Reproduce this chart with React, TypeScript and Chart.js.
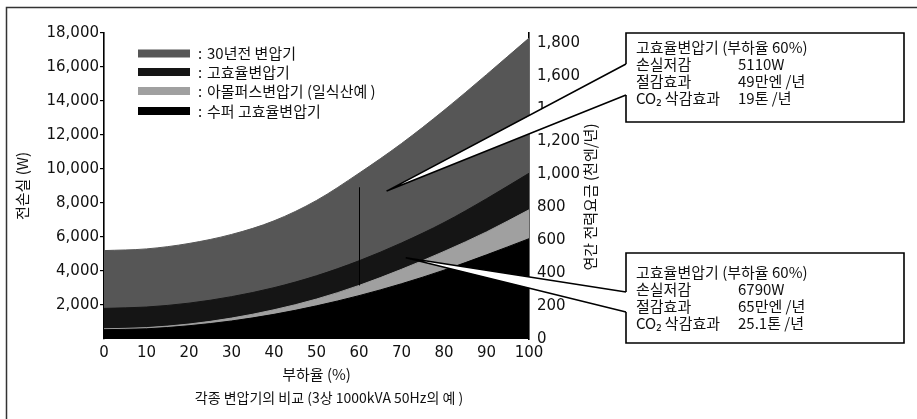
import React, { useEffect, useRef } from 'react';
import { Chart, registerables } from 'chart.js';

Chart.register(...registerables);

// ---- data ----
const LOAD_PCT = [0, 10, 20, 30, 40, 50, 60, 70, 80, 90, 100];
const LOSS_30Y_OLD = [5200, 5300, 5620, 6150, 6950, 8150, 9750, 11500, 13450, 15550, 17700];
const LOSS_HIGH_EFF = [1800, 1880, 2110, 2490, 3020, 3720, 4600, 5650, 6850, 8250, 9750];
const LOSS_AMORPHOUS = [600, 670, 880, 1230, 1720, 2350, 3150, 4100, 5150, 6300, 7600];
const LOSS_SUPER = [550, 600, 780, 1060, 1450, 1950, 2550, 3250, 4050, 4950, 5900];

const SERIES_LABELS = ['30년전 변압기', '고효율변압기', '아몰퍼스변압기 (일식산예 )', '수퍼 고효율변압기'];
const SERIES_COLORS = ['#565656', '#151515', '#a0a0a0', '#000000'];

const LEFT_TICKS = [2000, 4000, 6000, 8000, 10000, 12000, 14000, 16000, 18000];
const RIGHT_TICKS = [0, 200, 400, 600, 800, 1000, 1200, 1400, 1600, 1800];
const X_TICKS = [0, 10, 20, 30, 40, 50, 60, 70, 80, 90, 100];

const LEFT_TITLE = '전손실 (W)';
const RIGHT_TITLE = '연간 전력요금 (천엔/년)';
const X_TITLE = '부하율 (%)';
const CAPTION = '각종 변압기의 비교 (3상 1000kVA 50Hz의 예 )';

const CALLOUT_HIGH_EFF = [
  ['고효율변압기 (부하율 60%)', ''],
  ['손실저감', '5110W'],
  ['절감효과', '49만엔 /년'],
  ['CO₂ 삭감효과', '19톤 /년'],
];
const CALLOUT_AMORPH = [
  ['고효율변압기 (부하율 60%)', ''],
  ['손실저감', '6790W'],
  ['절감효과', '65만엔 /년'],
  ['CO₂ 삭감효과', '25.1톤 /년'],
];
// tips of the callout pointers (load %, loss W)
const CALLOUT_TIP_1 = [66.5, 8700];
const CALLOUT_TIP_2 = [71, 4780];
const MARK_LOAD = 60;

const KR = '"Noto Sans CJK KR", "Noto Sans", sans-serif';
const NUM = '"DejaVu Sans", sans-serif';
const INK = '#111111';

const overlayPlugin = {
  id: 'overlay',
  beforeDraw(chart: any) {
    const ctx = chart.ctx;
    ctx.save();
    ctx.strokeStyle = '#333';
    ctx.lineWidth = 1.5;
    ctx.beginPath();
    ctx.moveTo(6.5, 419);
    ctx.lineTo(6.5, 7.5);
    ctx.lineTo(917, 7.5);
    ctx.stroke();
    ctx.restore();
  },
  afterDraw(chart: any) {
    const ctx = chart.ctx;
    const xs = chart.scales.x;
    const ys = chart.scales.y;
    ctx.save();

    // vertical marker at 60 %
    const mi = LOAD_PCT.indexOf(MARK_LOAD);
    const mx = Math.round(xs.getPixelForValue(MARK_LOAD)) + 0.5;
    ctx.strokeStyle = '#000';
    ctx.lineWidth = 1;
    ctx.beginPath();
    ctx.moveTo(mx, ys.getPixelForValue(LOSS_30Y_OLD[mi]) + 14);
    ctx.lineTo(mx, ys.getPixelForValue(LOSS_AMORPHOUS[mi]));
    ctx.stroke();

    // legend
    const lx = 138;
    const rowY = [53.5, 72, 91, 111];
    ctx.font = '15px ' + KR;
    ctx.textBaseline = 'middle';
    ctx.textAlign = 'left';
    chart.data.datasets.forEach((ds: any, i: number) => {
      ctx.fillStyle = ds.backgroundColor;
      ctx.fillRect(lx, rowY[i] - 4, 52, 8);
      ctx.fillStyle = INK;
      ctx.fillText(':', 198, rowY[i]);
      ctx.fillText(ds.label, 207, rowY[i]);
    });

    // callouts
    const drawCallout = (tip: number[], bx: number, by: number, bw: number, bh: number, a1: number, a2: number, lines: string[][], firstOff: number) => {
      const tx = xs.getPixelForValue(tip[0]);
      const ty = ys.getPixelForValue(tip[1]);
      ctx.fillStyle = '#fff';
      ctx.beginPath();
      ctx.moveTo(tx, ty);
      ctx.lineTo(bx + 1, a1);
      ctx.lineTo(bx + 1, a2);
      ctx.closePath();
      ctx.fill();
      ctx.fillRect(bx, by, bw, bh);
      ctx.strokeStyle = '#000';
      ctx.lineWidth = 1.6;
      ctx.beginPath();
      ctx.moveTo(bx, a1);
      ctx.lineTo(tx, ty);
      ctx.lineTo(bx, a2);
      ctx.stroke();
      ctx.beginPath();
      ctx.moveTo(bx, a1);
      ctx.lineTo(bx, by);
      ctx.lineTo(bx + bw, by);
      ctx.lineTo(bx + bw, by + bh);
      ctx.lineTo(bx, by + bh);
      ctx.lineTo(bx, a2);
      ctx.stroke();
      ctx.fillStyle = INK;
      ctx.font = '15px ' + KR;
      ctx.textBaseline = 'middle';
      lines.forEach((ln, i) => {
        const y = by + firstOff + i * 17;
        ctx.fillText(ln[0], bx + 10, y);
        if (ln[1]) ctx.fillText(ln[1], bx + 112, y);
      });
    };
    drawCallout(CALLOUT_TIP_1, 626, 33, 278, 89, 64, 95, CALLOUT_HIGH_EFF, 14);
    drawCallout(CALLOUT_TIP_2, 626, 253, 278, 90, 292, 312, CALLOUT_AMORPH, 19);

    // right axis title (reads bottom to top)
    ctx.save();
    ctx.translate(590, 197);
    ctx.rotate(-Math.PI / 2);
    ctx.textAlign = 'center';
    ctx.textBaseline = 'middle';
    ctx.font = '15px ' + KR;
    ctx.fillStyle = INK;
    ctx.fillText(RIGHT_TITLE, 0, 0);
    ctx.restore();

    // caption
    ctx.textAlign = 'center';
    ctx.textBaseline = 'middle';
    ctx.font = '14px ' + KR;
    ctx.fillStyle = INK;
    ctx.fillText(CAPTION, 329, 398);

    ctx.restore();
  },
};

function toPoints(vals: number[]) {
  return LOAD_PCT.map((x, i) => ({ x, y: vals[i] }));
}

export default function App() {
  const ref = useRef<HTMLCanvasElement | null>(null);

  useEffect(() => {
    if (!ref.current) return;
    const seriesVals = [LOSS_30Y_OLD, LOSS_HIGH_EFF, LOSS_AMORPHOUS, LOSS_SUPER];
    const chart = new Chart(ref.current, {
      type: 'line',
      data: {
        datasets: seriesVals.map((vals, i) => ({
          label: SERIES_LABELS[i],
          data: toPoints(vals),
          backgroundColor: SERIES_COLORS[i],
          borderColor: SERIES_COLORS[i],
          borderWidth: 1,
          pointRadius: 0,
          fill: 'origin',
          cubicInterpolationMode: 'monotone' as const,
          order: 4 - i,
          yAxisID: 'y',
        })),
      },
      options: {
        responsive: false,
        animation: false,
        layout: { padding: { top: 33, left: 0, right: 0, bottom: 0 } },
        plugins: { legend: { display: false }, tooltip: { enabled: false } },
        scales: {
          x: {
            type: 'linear',
            min: 0,
            max: 100,
            afterBuildTicks: (s: any) => { s.ticks = X_TICKS.map((v) => ({ value: v })); },
            afterFit: (s: any) => { s.height = 80; },
            grid: { display: false, drawTicks: false },
            border: { display: false },
            ticks: { color: INK, padding: 5, font: { family: NUM, size: 15 }, maxRotation: 0 },
            title: { display: true, text: X_TITLE, color: INK, font: { family: KR, size: 15 }, padding: { top: 0, bottom: 36 } },
          },
          y: {
            type: 'linear',
            position: 'left',
            min: 0,
            max: 18000,
            afterBuildTicks: (s: any) => { s.ticks = LEFT_TICKS.map((v) => ({ value: v })); },
            afterFit: (s: any) => { s.width = 104; },
            grid: { display: true, drawOnChartArea: false, drawTicks: true, tickLength: 4, color: '#000', lineWidth: 1.2 },
            border: { display: true, color: '#000', width: 1.6 },
            ticks: { color: INK, padding: 1, font: { family: NUM, size: 15 } },
            title: { display: true, text: LEFT_TITLE, color: INK, font: { family: KR, size: 15 }, padding: { top: 13, bottom: 0 } },
          },
          y2: {
            type: 'linear',
            position: 'right',
            min: 0,
            max: 1860,
            afterBuildTicks: (s: any) => { s.ticks = RIGHT_TICKS.map((v) => ({ value: v })); },
            afterFit: (s: any) => { s.width = 388; },
            grid: { display: false, drawOnChartArea: false, drawTicks: false },
            border: { display: true, color: '#000', width: 1.6 },
            ticks: { color: INK, padding: 8, font: { family: NUM, size: 15 } },
          },
        },
      },
      plugins: [overlayPlugin],
    } as any);
    return () => chart.destroy();
  }, []);

  return (
    <div style={{ position: 'fixed', left: 0, top: 0, width: 917, height: 419, background: '#fff' }}>
      <canvas ref={ref} width={917} height={419} style={{ width: 917, height: 419, display: 'block' }} />
    </div>
  );
}
